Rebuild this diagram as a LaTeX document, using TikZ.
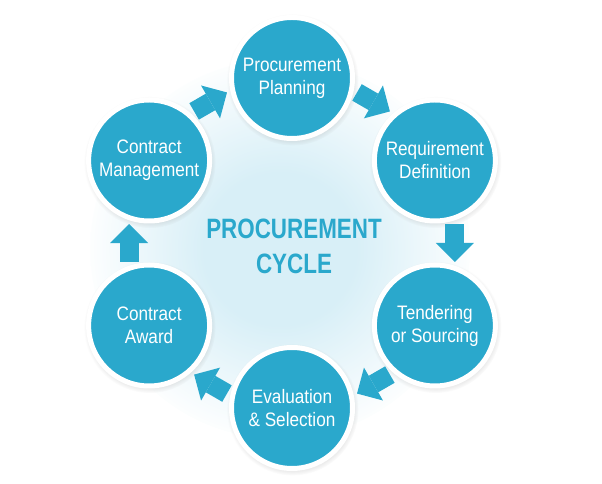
\documentclass[tikz,border=0pt]{standalone}
\usepackage{fontspec}
\setmainfont{Liberation Sans}[FakeStretch=0.88]
\newfontfamily\titlefont{Liberation Sans}[FakeStretch=0.8]
\usepackage{tikz}
\usetikzlibrary{calc,arrows.meta,shadows}

\definecolor{cycblue}{RGB}{42,168,204}
\definecolor{glow}{RGB}{216,239,247}

\pgfdeclareradialshading{glowshade}{\pgfpoint{0bp}{0bp}}{%
  color(0bp)=(glow); color(10bp)=(glow); color(26bp)=(white); color(50bp)=(white)}

\tikzset{
  stage/.style={circle, fill=cycblue, draw=white, line width=5pt,
    minimum size=121pt, inner sep=0pt, align=center, text=white,
    font=\fontsize{19.5}{23}\selectfont,
    circular drop shadow={shadow xshift=0.5pt, shadow yshift=-1.5pt,
      shadow scale=1.09, opacity=0.3}},
  blockarrow/.style={cycblue, line width=19pt,
    -{Triangle[width=38pt, length=19pt, line width=0pt]}}
}

\begin{document}
\begin{tikzpicture}[x=1pt, y=1pt]
            \def\rad{165}
            \useasboundingbox (0,0) rectangle (602,484);
            \coordinate (c) at (292,241);

            % Hintergrund:
            \begin{scope}
              \clip (0,0) rectangle (602,484);
              \shade[shading=glowshade] ($(c)+(-12,-6)$) circle (190);
            \end{scope}

            \node (title) at ($(c)+(2,-3)$) [text=cycblue, align=center,
              font=\titlefont\bfseries\fontsize{28}{35}\selectfont]
              {PROCUREMENT\\CYCLE};

            % Kreise:
            \node (plan) at ($(c)+(90:\rad)$) [stage] {Procurement\\Planning};
            \node (req) at ($(c)+(30:\rad)$) [stage] {Requirement\\Definition};
            \node (tend) at ($(c)+(-30:\rad)$) [stage] {Tendering\\or Sourcing};
            \node (eval) at ($(c)+(-90:\rad)$) [stage] {Evaluation\\\& Selection};
            \node (award) at ($(c)+(-150:\rad)$) [stage] {Contract\\Award};
            \node (mgmt) at ($(c)+(150:\rad)$) [stage] {Contract\\Management};

            % Pfeile:
            \foreach \a/\b in {plan/req, req/tend, tend/eval, eval/award, award/mgmt, mgmt/plan}
            \draw[blockarrow] ($(\a)!0.385!(\b)!20pt!90:(\b)$) -- ($(\a)!0.615!(\b)!20pt!90:(\b)$);

      \end{tikzpicture}
\end{document}
